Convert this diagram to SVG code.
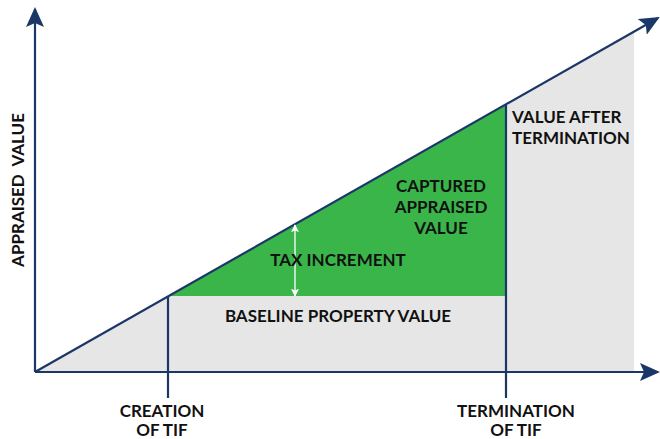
<svg xmlns="http://www.w3.org/2000/svg" width="660" height="439" viewBox="0 0 660 439">
<style>
.ax{stroke:#1b3768;stroke-width:2.2;fill:none}
.t{font-family:Lato,"Liberation Sans",sans-serif;font-weight:bold;font-size:17px;fill:#111;text-anchor:middle}
</style>
<defs>
<marker id="ah" viewBox="0 0 20 18" refX="18" refY="9" markerWidth="20" markerHeight="18" markerUnits="userSpaceOnUse" orient="auto">
<path d="M0,0 L20,9 L0,18 L4,9 z" fill="#1b3768"/>
</marker>
<marker id="wh" viewBox="0 0 10 10" refX="9" refY="5" markerWidth="8" markerHeight="8" markerUnits="userSpaceOnUse" orient="auto">
<path d="M0,0 L10,5 L0,10 L2,5 z" fill="#fff"/>
</marker>
</defs>
<rect width="660" height="439" fill="#fff"/>
<g id="regions">
<polygon points="35,371 634,32 634,371" fill="#e6e6e6"/>
<polygon points="168,296 506,105 506,296" fill="#3ab54a"/>
</g>
<g id="connectors">
<line class="ax" x1="35" y1="372" x2="35" y2="9" marker-end="url(#ah)"/>
<line class="ax" x1="35" y1="372" x2="658" y2="372" marker-end="url(#ah)"/>
<line class="ax" x1="35" y1="372" x2="658" y2="18" marker-end="url(#ah)"/>
<line class="ax" x1="168" y1="296" x2="168" y2="398"/>
<line class="ax" x1="506" y1="105" x2="506" y2="398"/>
<line x1="295" y1="260" x2="295" y2="225" stroke="#fff" stroke-width="1.3" marker-end="url(#wh)"/>
<line x1="295" y1="260" x2="295" y2="296" stroke="#fff" stroke-width="1.3" marker-end="url(#wh)"/>
</g>
<g id="labels">
<text class="t" x="18" y="190" transform="rotate(-90 18 190)" dy="6" xml:space="preserve">APPRAISED  VALUE</text>
<text class="t" x="338" y="266">TAX INCREMENT</text>
<text class="t" x="338" y="322">BASELINE PROPERTY VALUE</text>
<text class="t" x="441" y="192">CAPTURED</text>
<text class="t" x="441" y="213">APPRAISED</text>
<text class="t" x="441" y="234">VALUE</text>
<text class="t" x="512" y="123" style="text-anchor:start">VALUE AFTER</text>
<text class="t" x="512" y="144" style="text-anchor:start">TERMINATION</text>
<text class="t" x="162" y="417">CREATION</text>
<text class="t" x="162" y="436">OF TIF</text>
<text class="t" x="516" y="417">TERMINATION</text>
<text class="t" x="516" y="436">OF TIF</text>
</g>
</svg>
